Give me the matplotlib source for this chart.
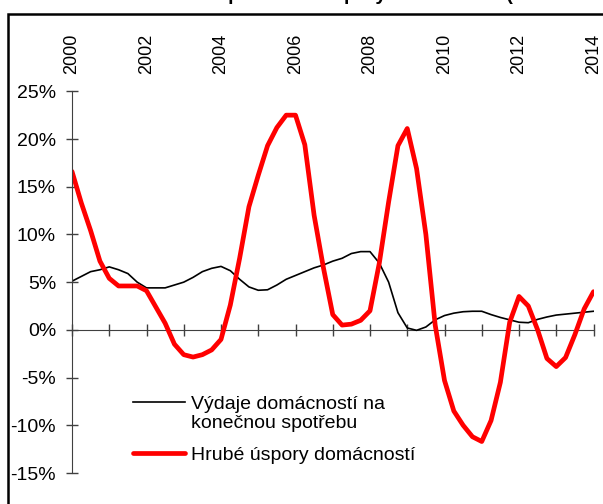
import numpy as np
import matplotlib
matplotlib.use("Agg")
import matplotlib.pyplot as plt
from matplotlib.patches import Rectangle
from matplotlib.legend_handler import HandlerLine2D
from matplotlib.ticker import FuncFormatter

plt.rcParams['font.family'] = ['Liberation Sans', 'DejaVu Sans']

# quarterly y/y changes, 2000Q1 - 2014Q1 (%)
vydaje = [5.1, 5.6, 6.1, 6.3, 6.6, 6.3, 5.9, 5.0,
          4.4, 4.4, 4.4, 4.7, 5.0, 5.5, 6.1, 6.45,
          6.65, 6.2, 5.3, 4.5, 4.15, 4.2, 4.7, 5.3,
          5.7, 6.1, 6.5, 6.8, 7.2, 7.5, 8.0, 8.2,
          8.2, 7.0, 5.0, 1.8, 0.2, -0.05, 0.3, 1.05,
          1.5, 1.75, 1.9, 1.95, 1.95, 1.6, 1.3, 1.05,
          0.8, 0.75, 1.1, 1.35, 1.55, 1.65, 1.75, 1.85,
          1.95]
uspory = [16.6, 13.3, 10.4, 7.2, 5.4, 4.6, 4.6, 4.6,
          4.1, 2.4, 0.7, -1.5, -2.6, -2.85, -2.6, -2.1,
          -1.0, 2.6, 7.5, 12.9, 16.2, 19.3, 21.2, 22.5,
          22.5, 19.4, 12.0, 6.5, 1.6, 0.5, 0.6, 1.0,
          2.0, 7.0, 13.4, 19.3, 21.1, 16.9, 10.0, 0.5,
          -5.3, -8.5, -10.0, -11.2, -11.7, -9.5, -5.5, 0.8,
          3.5, 2.5, 0.0, -3.0, -3.85, -2.9, -0.5, 2.2,
          4.0]
quarters = 2000 + np.arange(len(vydaje)) / 4
years = list(range(2000, 2015))
year_labels = [str(y) if y % 2 == 0 else "" for y in years]
label_vydaje = "Výdaje domácností na\nkonečnou spotřebu"
label_uspory = "Hrubé úspory domácností"
title = "Spotřeba a úspory domácností (meziročně)"

axis_col = "#404040"


class RaisedLine(HandlerLine2D):
    # put the handle next to the first line of a two-line label
    def create_artists(self, legend, orig_handle, xdescent, ydescent,
                       width, height, fontsize, trans):
        return super().create_artists(legend, orig_handle, xdescent,
                                      ydescent - 1.2 * fontsize, width,
                                      height, fontsize, trans)


fig = plt.figure(figsize=(6.03, 5.04), dpi=100)
ax = fig.add_axes([72 / 603, 31 / 504, 521.5 / 603, 381.7 / 504])

l1, = ax.plot(quarters, vydaje, color="black", lw=1.2, label=label_vydaje)
l2, = ax.plot(quarters, uspory, color="#ff0000", lw=3.4,
              solid_joinstyle="round", solid_capstyle="round",
              label=label_uspory)

ax.set_xlim(2000, 2014)
ax.set_ylim(-15, 25)
ax.set_yticks(range(-15, 30, 5))
ax.yaxis.set_major_formatter(FuncFormatter(lambda v, p: f"{v:.0f}%"))
ax.set_xticks(years)
ax.set_xticklabels(year_labels)

for s in ["top", "right"]:
    ax.spines[s].set_visible(False)
ax.spines["bottom"].set_position(("data", 0))
ax.spines["bottom"].set_color(axis_col)
ax.spines["left"].set_color(axis_col)
ax.spines["bottom"].set_zorder(1)

ax.tick_params(axis="x", bottom=True, top=False, labelbottom=False,
               labeltop=True, direction="inout", length=8, width=1,
               color=axis_col, labelrotation=90, labelsize=13, pad=8.6)
ax.tick_params(axis="y", direction="inout", length=8, width=1,
               color=axis_col, labelsize=14, pad=7.5)
for t in ax.get_xticklabels():
    t.set_verticalalignment("bottom")

ax.legend(handles=[l1, l2], handler_map={l1: RaisedLine()},
          loc="upper left", bbox_to_anchor=(0.1164, 0.202),
          frameon=False, fontsize=14, borderpad=0, borderaxespad=0,
          handlelength=2.7, handletextpad=0.3, labelspacing=0.7)

# outer chart frame (cut by the screenshot on the right and bottom)
fig.patches.append(Rectangle((8 / 603, -0.1), 1.2, 0.9722 + 0.1,
                             transform=fig.transFigure, fill=False,
                             ec="black", lw=1.8, clip_on=False))
fig.text(215 / 603, 1 + 0.5 / 504, title, fontsize=14, fontweight="bold",
         ha="left", va="baseline")

fig.savefig("out.png", dpi=100)
